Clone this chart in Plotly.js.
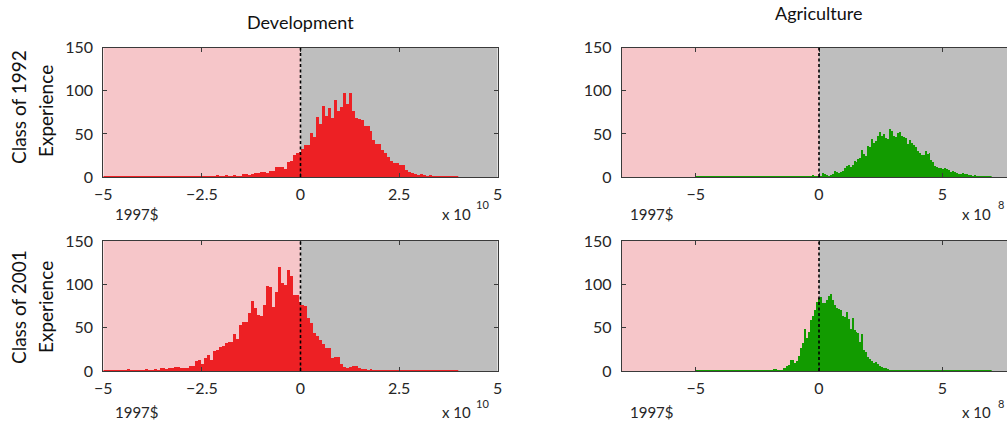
<!DOCTYPE html>
<html><head><meta charset="utf-8">
<script src="https://cdn.plot.ly/plotly-3.0.1.min.js"></script>
<style>html,body{margin:0;padding:0;overflow:hidden;background:#fff}#chart{width:1017px;height:422px}</style>
</head><body><div id="chart"></div>
<script>
// ---- data (histogram counts) ----
const devBinStart = -5, devBinWidth = 0.075;   // units: x 10^10 1997$
const agrBinStart = -5, agrBinWidth = 0.08;    // units: x 10^8 1997$

const dev1992 = [
  0,0,0,0,0,0,0,0,0,0, 0,0,0,0,0,0,0,0,0,0, 0,0,0,0,0,0,0,0,0,0,
  0,0,0,0,1,0,0,1,2,0, 1,2,1,0,2,1,1,3,3,2, 3,5,5,6,6,5,7,7,12,12,
  12,9,17,18,26,28,29,33,37,37, 51,46,70,62,82,71,80,68,89,77,
  81,97,85,97,77,68,67,66,59,59, 53,43,38,38,31,28,23,18,16,16,
  14,14,8,6,5,4,2,3,2,1, 2,1,1,0,1,1,0,1,0,0
];
const dev2001 = [
  0,0,0,0,0,0,0,0,2,1, 0,1,0,1,2,1,1,2,1,3, 4,2,3,3,5,5,4,4,4,6,
  6,12,13,8,15,19,13,23,24,28, 29,32,33,34,43,37,53,57,57,67,
  81,73,65,64,76,98,97,74,91,120, 101,99,117,110,88,88,80,76,75,61,
  55,44,40,36,31,27,27,15,16,16, 8,5,4,5,6,6,3,2,2,1,
  2,1,1,0,1,0,1,0,0,0, 0,0,0,0,0,0,0,0,0,0, 0,0,0,0,0,0,0,0,0,0
];
const agr1992 = [
  0,0,0,0,0,0,0,0,0,0, 0,0,0,0,0,0,0,0,0,0, 0,0,0,0,0,0,0,0,0,0,
  0,0,0,0,0,0,0,0,0,0, 0,0,0,0,0,0,0,0,0,0, 0,0,0,0,0,0,0,0,0,2,
  1,0,0,1,5,4,2,1,2,3, 7,6,5,6,7,11,13,14,12,14, 18,17,21,22,31,27,24,36,35,44,
  40,42,47,52,47,50,45,44,56,53, 48,46,51,52,48,46,45,38,43,40,
  37,35,30,28,26,25,30,27,28,20, 17,13,12,11,10,9,10,9,8,6,
  7,6,5,4,4,5,3,4,2,2, 1,2,1,1,1,0,1,1,0,0
];
const agr2001 = [
  0,0,0,0,0,0,0,0,0,0, 0,0,0,0,0,0,0,0,0,0, 0,0,0,0,0,0,0,0,0,0,
  0,0,0,0,0,0,0,0,1,2, 2,1,0,1,3,3,6,7,13,13, 9,11,17,26,32,48,38,45,59,64,
  70,80,84,85,78,78,82,86,89,82, 76,73,72,70,63,62,68,60,49,61,
  47,45,44,34,43,24,22,16,14,12, 9,10,8,6,5,4,3,2,1,1,
  0,1,0,0,0,0,0,0,0,0, 0,0,0,0,0,0,0,0,0,0, 0,0,0,0,0,0,0,0,0,0,
  0,0,0,0,0,0,0,0,0,0, 0,0,0,0,0,0,0,0,0,0
];

const colTitles = ['Development', 'Agriculture'];
const rowTitles = [['Class of 1992', 'Experience'], ['Class of 2001', 'Experience']];
const unitLabel = '1997$';
const devExponent = '10', agrExponent = '8';
const devTicks = [-5, -2.5, 0, 2.5, 5];
const agrTicks = [-5, 0, 5];
const yTicks = [0, 50, 100, 150];

// ---- helpers ----
const W = 1017, H = 422;
const px = v => v / W, py = v => 1 - v / H;
const RED = '#ED2024', GREEN = '#129B00', PINK = '#F6C6C9', GREY = '#BEBEBE';
const FONT = "Lato, 'Open Sans', sans-serif";
const TXT = '#262626';

function centers(start, width, n) { const a = []; for (let i = 0; i < n; i++) a.push(start + width * (i + 0.5)); return a; }

function histTraces(counts, start, width, color, ax) {
  const n = counts.length;
  return [
    {type: 'bar', x: centers(start, width, n), y: counts, width: width,
     marker: {color: color, line: {width: 0}}, xaxis: 'x' + ax, yaxis: 'y' + ax, hoverinfo: 'skip'},
    {type: 'scatter', mode: 'lines', x: [start, start + width * n], y: [0, 0],
     line: {color: color, width: 2}, xaxis: 'x' + ax, yaxis: 'y' + ax, hoverinfo: 'skip', cliponaxis: false}
  ];
}

const data = [
  ...histTraces(dev1992, devBinStart, devBinWidth, RED, ''),
  ...histTraces(agr1992, agrBinStart, agrBinWidth, GREEN, '2'),
  ...histTraces(dev2001, devBinStart, devBinWidth, RED, '3'),
  ...histTraces(agr2001, agrBinStart, agrBinWidth, GREEN, '4')
];

const xDomL = [px(103.3), px(497.7)], xDomR = [px(621.7), px(1016.3)];
const yDomT = [py(177), py(47.7)], yDomB = [py(371), py(241)];

function xax(dom, range, ticks, anchor) {
  return {domain: dom, range: range, tickvals: ticks, anchor: anchor, showgrid: false, zeroline: false,
    showline: true, mirror: 'ticks', linecolor: '#3a3a3a', linewidth: 1, ticks: 'inside', ticklen: 4,
    tickcolor: '#3a3a3a', ticklabelstandoff: 3, tickfont: {family: FONT, size: 16, color: TXT}, fixedrange: true};
}
function yax(dom, anchor) {
  return {domain: dom, range: [0, 150], tickvals: yTicks, anchor: anchor, showgrid: false, zeroline: false,
    showline: true, mirror: 'ticks', linecolor: '#3a3a3a', linewidth: 1, ticks: 'inside', ticklen: 4,
    tickcolor: '#3a3a3a', ticklabelstandoff: 6, tickfont: {family: FONT, size: 16, color: TXT}, fixedrange: true};
}

const shapes = [];
[['x', 'y', -5, 5], ['x2', 'y2', -8, 8], ['x3', 'y3', -5, 5], ['x4', 'y4', -8, 8]].forEach(([xa, ya, lo, hi]) => {
  shapes.push({type: 'rect', xref: xa, yref: ya + ' domain', x0: lo, x1: 0, y0: 0, y1: 1, fillcolor: PINK, line: {width: 0}, layer: 'below'});
  shapes.push({type: 'rect', xref: xa, yref: ya + ' domain', x0: 0, x1: hi, y0: 0, y1: 1, fillcolor: GREY, line: {width: 0}, layer: 'below'});
  shapes.push({type: 'line', xref: xa, yref: ya + ' domain', x0: 0, x1: 0, y0: 0, y1: 1, line: {color: '#000', width: 1.6, dash: '3px,2.5px'}, layer: 'above'});
});

const ann = [];
function A(text, x, y, opts) { ann.push(Object.assign({text: text, x: px(x), y: py(y), xref: 'paper', yref: 'paper', showarrow: false,
  xanchor: 'center', yanchor: 'middle', font: {family: FONT, size: 15, color: TXT}}, opts || {})); }
const titleFont = {family: FONT, size: 18, color: '#111'};
const rowFont = {family: FONT, size: 19, color: '#111'};
const supFont = {family: FONT, size: 11, color: TXT};
A(colTitles[0], 300, 22, {font: titleFont});
A(colTitles[1], 818, 13, {font: titleFont});
A(rowTitles[0][0], 18, 107, {textangle: -90, font: rowFont});
A(rowTitles[0][1], 45, 111, {textangle: -90, font: rowFont});
A(rowTitles[1][0], 18, 307, {textangle: -90, font: rowFont});
A(rowTitles[1][1], 45, 307, {textangle: -90, font: rowFont});
[214, 412].forEach(yy => {
  A(unitLabel, 113, yy, {xanchor: 'left'});
  A(unitLabel, 628, yy, {xanchor: 'left'});
  A('x 10', 473, yy, {xanchor: 'right'});
  A(devExponent, 474, yy - 9, {xanchor: 'left', font: supFont});
  A('x 10', 993, yy, {xanchor: 'right'});
  A(agrExponent, 996, yy - 9, {xanchor: 'left', font: supFont});
});

const layout = {
  width: W, height: H, margin: {l: 0, r: 0, t: 0, b: 0}, showlegend: false,
  paper_bgcolor: '#fff', plot_bgcolor: 'rgba(0,0,0,0)', barmode: 'overlay', bargap: 0,
  xaxis: xax(xDomL, [-5, 5], devTicks, 'y'), yaxis: yax(yDomT, 'x'),
  xaxis2: xax(xDomR, [-8, 8], agrTicks, 'y2'), yaxis2: yax(yDomT, 'x2'),
  xaxis3: xax(xDomL, [-5, 5], devTicks, 'y3'), yaxis3: yax(yDomB, 'x3'),
  xaxis4: xax(xDomR, [-8, 8], agrTicks, 'y4'), yaxis4: yax(yDomB, 'x4'),
  shapes: shapes, annotations: ann
};
Plotly.newPlot('chart', data, layout, {displayModeBar: false, staticPlot: true});
</script></body></html>
